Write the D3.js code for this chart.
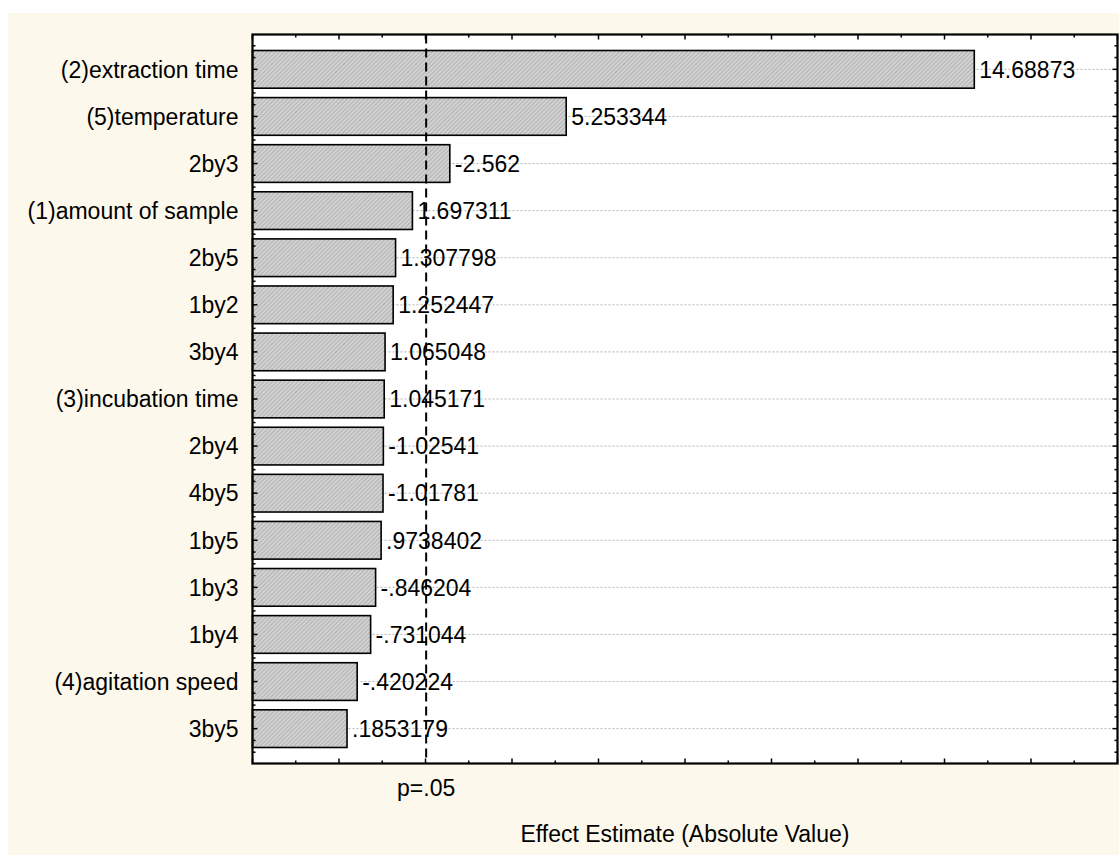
<!DOCTYPE html>
<html>
<head>
<meta charset="utf-8">
<script src="https://cdn.jsdelivr.net/npm/d3@7"></script>
<style>
  html, body { margin: 0; padding: 0; background: #ffffff; }
  svg { display: block; }
  text { font-family: Arial, "Liberation Sans", Helvetica, sans-serif; fill: #000; }
</style>
</head>
<body>
<script>
// Pareto chart of standardized effects
const categories = [
  "(2)extraction time", "(5)temperature", "2by3", "(1)amount of sample",
  "2by5", "1by2", "3by4", "(3)incubation time", "2by4", "4by5",
  "1by5", "1by3", "1by4", "(4)agitation speed", "3by5"
];
const effects = [
  14.68873, 5.253344, -2.562, 1.697311, 1.307798, 1.252447, 1.065048,
  1.045171, -1.02541, -1.01781, 0.9738402, -0.846204, -0.731044,
  -0.420224, 0.1853179
];
const xDomain = [-2, 18];
const xMajorTicks = [-2, 0, 2, 4, 6, 8, 10, 12, 14, 16, 18];
const xMinorTicks = [-1, 1, 3, 5, 7, 9, 11, 13, 15, 17];
const criticalValue = 2.015;
const criticalLabel = "p=.05";
const xTitle = "Effect Estimate (Absolute Value)";

const W = 1119, H = 855;
const plot = { left: 252.5, right: 1117.5, top: 34.5, bottom: 763.5 };

const svg = d3.select("body").append("svg")
  .attr("width", W).attr("height", H);

// bar hatching
const defs = svg.append("defs");
const pat = defs.append("pattern")
  .attr("id", "hatch")
  .attr("patternUnits", "userSpaceOnUse")
  .attr("width", 3).attr("height", 3)
  .attr("patternTransform", "rotate(45)");
pat.append("rect").attr("width", 3).attr("height", 3).attr("fill", "#d2d2d2");
pat.append("line").attr("x1", 0).attr("y1", 0).attr("x2", 0).attr("y2", 3)
  .attr("stroke", "#9c9c9c").attr("stroke-width", 1.2);

// panel background
svg.append("rect").attr("x", 8).attr("y", 13)
  .attr("width", W - 8).attr("height", H - 13)
  .attr("fill", "#fdf8ec");

svg.append("rect")
  .attr("x", plot.left).attr("y", plot.top)
  .attr("width", plot.right - plot.left).attr("height", plot.bottom - plot.top)
  .attr("fill", "#ffffff");

const x = d3.scaleLinear().domain(xDomain).range([plot.left, plot.right]);
const y = d3.scaleBand().domain(categories)
  .range([plot.top, plot.bottom])
  .paddingInner(0.2).paddingOuter(0.34);

const fmtLocale = d3.formatLocale({ decimal: ".", thousands: ",", grouping: [3], currency: ["$", ""], minus: "-" });
const fmt7 = fmtLocale.format(".7~g");
const fmt = v => fmt7(v).replace(/^(-?)0\./, "$1.");

const rows = categories.map((c, i) => ({ name: c, value: effects[i] }));

// dotted guides at row centers
svg.append("g").selectAll("line").data(rows).join("line")
  .attr("x1", plot.left).attr("x2", plot.right)
  .attr("y1", d => y(d.name) + y.bandwidth() / 2)
  .attr("y2", d => y(d.name) + y.bandwidth() / 2)
  .attr("stroke", "#b4b4b4").attr("stroke-width", 1)
  .attr("stroke-dasharray", "2,2");

// bars
svg.append("g").selectAll("rect").data(rows).join("rect")
  .attr("x", x(xDomain[0]))
  .attr("y", d => y(d.name))
  .attr("width", d => x(Math.abs(d.value)) - x(xDomain[0]))
  .attr("height", y.bandwidth())
  .attr("fill", "url(#hatch)")
  .attr("stroke", "#000").attr("stroke-width", 1.6);

// critical value line
svg.append("line")
  .attr("x1", x(criticalValue)).attr("x2", x(criticalValue))
  .attr("y1", plot.top).attr("y2", plot.bottom)
  .attr("stroke", "#000").attr("stroke-width", 2)
  .attr("stroke-dasharray", "9,5");

// value labels
svg.append("g").selectAll("text").data(rows).join("text")
  .attr("x", d => x(Math.abs(d.value)) + 5)
  .attr("y", d => y(d.name) + y.bandwidth() / 2)
  .attr("dy", "0.36em")
  .attr("font-size", 23)
  .text(d => fmt(d.value));

// category labels
svg.append("g").selectAll("text").data(rows).join("text")
  .attr("x", plot.left - 14)
  .attr("y", d => y(d.name) + y.bandwidth() / 2)
  .attr("dy", "0.36em")
  .attr("text-anchor", "end")
  .attr("font-size", 23)
  .text(d => d.name);

// axis ticks (inward) on all four sides
const tickG = svg.append("g").attr("stroke", "#000").attr("stroke-width", 1.5);
function xTicks(vals, len) {
  vals.forEach(v => {
    tickG.append("line").attr("x1", x(v)).attr("x2", x(v))
      .attr("y1", plot.bottom).attr("y2", plot.bottom - len);
    tickG.append("line").attr("x1", x(v)).attr("x2", x(v))
      .attr("y1", plot.top).attr("y2", plot.top + len);
  });
}
xTicks(xMajorTicks, 5);
xTicks(xMinorTicks, 3);

const step = y.step();
const yTickPos = [];
categories.forEach(c => {
  const cy = y(c) + y.bandwidth() / 2;
  [-0.5, -0.25, 0, 0.25].forEach(f => yTickPos.push({ pos: cy + f * step, major: f === 0 }));
});
yTickPos.push({ pos: y(categories[categories.length - 1]) + y.bandwidth() / 2 + 0.5 * step, major: false });
yTickPos.forEach(t => {
  const len = t.major ? 5 : 3;
  tickG.append("line").attr("x1", plot.left).attr("x2", plot.left + len)
    .attr("y1", t.pos).attr("y2", t.pos);
  tickG.append("line").attr("x1", plot.right).attr("x2", plot.right - len)
    .attr("y1", t.pos).attr("y2", t.pos);
});

// frame
svg.append("rect")
  .attr("x", plot.left).attr("y", plot.top)
  .attr("width", plot.right - plot.left).attr("height", plot.bottom - plot.top)
  .attr("fill", "none").attr("stroke", "#000").attr("stroke-width", 2.2);

// axis captions
svg.append("text")
  .attr("x", x(criticalValue)).attr("y", 796)
  .attr("text-anchor", "middle").attr("font-size", 23)
  .text(criticalLabel);

svg.append("text")
  .attr("x", (plot.left + plot.right) / 2).attr("y", 842)
  .attr("text-anchor", "middle").attr("font-size", 23)
  .text(xTitle);
</script>
</body>
</html>
